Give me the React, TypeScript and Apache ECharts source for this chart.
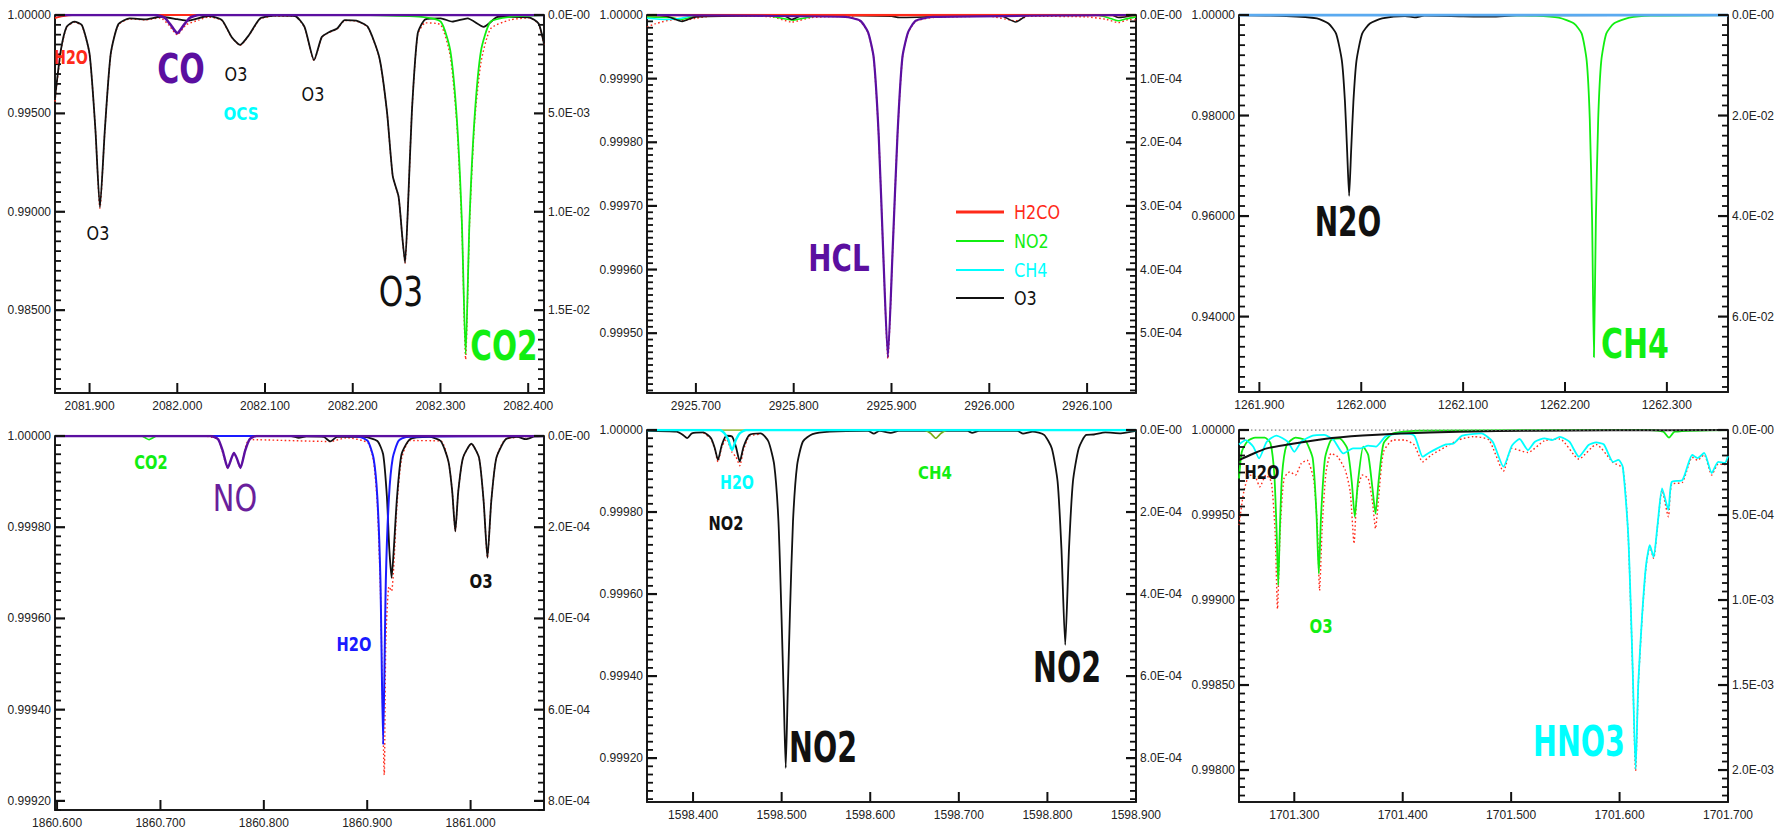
import React, { useEffect, useRef } from "react";
import * as echarts from "echarts";

// ---------------- axis ranges and tick labels ----------------
const P1_X = [2081.8606, 2082.418];
const P1_YMIN = 0.98079;
const P1_XTICKS = [2081.9, 2082.0, 2082.1, 2082.2, 2082.3, 2082.4];
const P1_YTICKS = [1.0, 0.995, 0.99, 0.985];
const P1_RTICKS = [0, 0.005, 0.01, 0.015];

const P2_X = [2925.65, 2926.15];
const P2_YMIN = 0.999406;
const P2_XTICKS = [2925.7, 2925.8, 2925.9, 2926.0, 2926.1];
const P2_YTICKS = [1.0, 0.9999, 0.9998, 0.9997, 0.9996, 0.9995];
const P2_RTICKS = [0, 0.0001, 0.0002, 0.0003, 0.0004, 0.0005];

const P3_X = [1261.88, 1262.36];
const P3_YMIN = 0.925;
const P3_XTICKS = [1261.9, 1262.0, 1262.1, 1262.2, 1262.3];
const P3_YTICKS = [1.0, 0.98, 0.96, 0.94];
const P3_RTICKS = [0, 0.02, 0.04, 0.06];

const P4_X = [1860.598, 1861.071];
const P4_YMIN = 0.99918;
const P4_XTICKS = [1860.6, 1860.7, 1860.8, 1860.9, 1861.0];
const P4_YTICKS = [1.0, 0.9998, 0.9996, 0.9994, 0.9992];
const P4_RTICKS = [0, 0.0002, 0.0004, 0.0006, 0.0008];

const P5_X = [1598.348, 1598.9];
const P5_YMIN = 0.999093;
const P5_XTICKS = [1598.4, 1598.5, 1598.6, 1598.7, 1598.8, 1598.9];
const P5_YTICKS = [1.0, 0.9998, 0.9996, 0.9994, 0.9992];
const P5_RTICKS = [0, 0.0002, 0.0004, 0.0006, 0.0008];

const P6_X = [1701.249, 1701.7];
const P6_YMIN = 0.997812;
const P6_XTICKS = [1701.3, 1701.4, 1701.5, 1701.6, 1701.7];
const P6_YTICKS = [1.0, 0.9995, 0.999, 0.9985, 0.998];
const P6_RTICKS = [0, 0.0005, 0.001, 0.0015, 0.002];

// ---------------- series values ----------------
// Panel 1 (2082 cm-1)
const p1_O3 = [
  [2081.8606, 0.99578], [2081.8672, 0.99819], [2081.8738, 0.9994], [2081.8825, 0.99966],
  [2081.8913, 0.99948], [2081.9, 0.99802], [2081.9066, 0.99422], [2081.9118, 0.99022],
  [2081.9175, 0.99422], [2081.9241, 0.99802], [2081.9328, 0.99953], [2081.9459, 0.99983],
  [2081.9634, 0.99978], [2081.9809, 0.99991], [2082.0, 0.99979], [2082.0116, 0.99971],
  [2082.0356, 0.99995], [2082.0509, 0.99974], [2082.0619, 0.99888], [2082.0715, 0.99848],
  [2082.0815, 0.99897], [2082.0947, 0.99983], [2082.1122, 0.99997], [2082.134, 0.99995],
  [2082.145, 0.9994], [2082.1559, 0.99771], [2082.1647, 0.99888], [2082.1734, 0.99914],
  [2082.1822, 0.99931], [2082.1909, 0.99974], [2082.204, 0.99971], [2082.2171, 0.9994],
  [2082.2303, 0.99784], [2082.239, 0.99509], [2082.2456, 0.99181], [2082.2522, 0.99078],
  [2082.2565, 0.98871], [2082.2596, 0.98741], [2082.2631, 0.99043], [2082.2674, 0.99509],
  [2082.274, 0.99905], [2082.2828, 0.99978], [2082.3003, 0.99983], [2082.3134, 0.99966],
  [2082.3309, 0.99983], [2082.3493, 0.9994], [2082.3659, 0.99991], [2082.4009, 0.99988],
  [2082.4118, 0.99957], [2082.418, 0.99853],
];
const p1_CO2 = [
  [2082.22, 1.0], [2082.2784, 0.99991], [2082.3003, 0.99966], [2082.3112, 0.99819],
  [2082.3186, 0.99474], [2082.3243, 0.98957], [2082.3287, 0.98276], [2082.3331, 0.98957],
  [2082.3388, 0.99474], [2082.3462, 0.99819], [2082.3571, 0.99966], [2082.379, 0.99991],
  [2082.418, 1.0],
];
const p1_CO = [
  [2081.8606, 1.0], [2081.975, 1.0], [2081.986, 0.99985], [2081.994, 0.9994], [2082.0, 0.99908],
  [2082.006, 0.9994], [2082.014, 0.99985], [2082.025, 1.0], [2082.418, 1.0],
];
const p1_H2O = [[2081.8606, 0.99985], [2081.868, 0.99993], [2081.88, 1.0], [2082.418, 1.0]];
const p1_TOTAL = [
  [2081.8606, 0.9956], [2081.8672, 0.99815], [2081.8738, 0.99938], [2081.8825, 0.99963],
  [2081.8913, 0.99945], [2081.9, 0.998], [2081.9066, 0.9942], [2081.9118, 0.99018],
  [2081.9175, 0.9942], [2081.9241, 0.998], [2081.9328, 0.9995], [2081.9459, 0.9998],
  [2081.9634, 0.99975], [2081.9809, 0.99985], [2081.99, 0.9995], [2082.0, 0.999],
  [2082.01, 0.9995], [2082.025, 0.99975], [2082.0356, 0.9999], [2082.0509, 0.99972],
  [2082.0619, 0.99886], [2082.0715, 0.99846], [2082.0815, 0.99895], [2082.0947, 0.9998],
  [2082.1122, 0.99995], [2082.134, 0.99993], [2082.145, 0.99938], [2082.1559, 0.99769],
  [2082.1647, 0.99886], [2082.1734, 0.99912], [2082.1822, 0.99929], [2082.1909, 0.99972],
  [2082.204, 0.99969], [2082.2171, 0.99938], [2082.2303, 0.99782], [2082.239, 0.99507],
  [2082.2456, 0.99179], [2082.2522, 0.99076], [2082.2565, 0.98869], [2082.2596, 0.98739],
  [2082.2631, 0.99041], [2082.2674, 0.99507], [2082.274, 0.999], [2082.2828, 0.9996],
  [2082.3003, 0.9995], [2082.3112, 0.9979], [2082.3186, 0.9945], [2082.3243, 0.98935],
  [2082.3287, 0.9825], [2082.3331, 0.98935], [2082.3388, 0.9945], [2082.3462, 0.9976],
  [2082.3571, 0.9993], [2082.379, 0.99975], [2082.4009, 0.99985], [2082.4118, 0.99955],
  [2082.418, 0.9985],
];

// Panel 2 (2926 cm-1)
const p2_HCL = [
  [2925.65, 1.0], [2925.8525, 0.999997], [2925.8681, 0.999991], [2925.876, 0.999973],
  [2925.8818, 0.999933], [2925.8869, 0.999811], [2925.8916, 0.999624], [2925.8963, 0.999462],
  [2925.901, 0.999624], [2925.9061, 0.999811], [2925.9111, 0.999933], [2925.917, 0.999973],
  [2925.9248, 0.999991], [2925.9424, 0.999997], [2926.15, 1.0],
];
const p2_O3 = [
  [2925.65, 1.0], [2925.67, 0.999998], [2925.686, 0.99999], [2925.7, 0.999997], [2925.79, 0.999999],
  [2925.798, 0.999993], [2925.81, 1.0], [2925.9, 0.999998], [2925.908, 0.999996], [2926.01, 1.0],
  [2926.027, 0.999989], [2926.04, 1.0], [2926.125, 1.0], [2926.132, 0.999996], [2926.15, 1.0],
];
const p2_NO2 = [
  [2925.65, 0.999997], [2925.675, 0.999996], [2925.685, 0.999993], [2925.7, 0.999998],
  [2925.77, 1.0], [2925.79, 0.999994], [2925.8, 0.999992], [2925.81, 0.999995], [2925.83, 1.0],
  [2926.11, 1.0], [2926.125, 0.999994], [2926.132, 0.999991], [2926.14, 0.999994], [2926.15, 0.999997],
];
const p2_CH4 = [[2925.65, 0.999995], [2925.67, 0.999993], [2925.685, 0.999995], [2925.7, 1.0], [2926.15, 1.0]];
const p2_H2CO = [[2925.65, 1.0], [2926.15, 1.0]];
const p2_TOTAL = [
  [2925.65, 0.999981], [2925.658, 0.999986], [2925.678, 0.999993], [2925.686, 0.999991],
  [2925.7, 0.999995], [2925.72, 0.999999], [2925.778, 0.999997], [2925.798, 0.999989],
  [2925.818, 0.999996], [2925.857, 0.999998], [2925.8681, 0.99999], [2925.876, 0.999972],
  [2925.8818, 0.999932], [2925.8869, 0.99981], [2925.8916, 0.999623], [2925.8963, 0.99946],
  [2925.901, 0.999623], [2925.9061, 0.99981], [2925.9111, 0.999932], [2925.917, 0.999972],
  [2925.9248, 0.99999], [2925.9424, 0.999996], [2926.0, 0.999998], [2926.027, 0.999991],
  [2926.04, 0.999998], [2926.1, 0.999997], [2926.12, 0.999993], [2926.132, 0.999988],
  [2926.143, 0.999993], [2926.15, 0.999992],
];

// Panel 3 (1262 cm-1)
const p3_N2O = [
  [1261.88, 1.0], [1261.9264, 0.9998], [1261.9565, 0.99932], [1261.9678, 0.99831],
  [1261.9753, 0.99629], [1261.981, 0.99089], [1261.984, 0.98279], [1261.9862, 0.97266],
  [1261.9881, 0.96402], [1261.99, 0.97266], [1261.9923, 0.98279], [1261.9953, 0.99089],
  [1262.0009, 0.99629], [1262.0085, 0.99831], [1262.0205, 0.99932], [1262.0431, 0.9998],
  [1262.0525, 0.99953], [1262.062, 0.99987], [1262.0883, 0.9998], [1262.1279, 0.99966],
  [1262.1524, 0.99993], [1262.36, 1.0],
];
const p3_CH4 = [
  [1262.14, 1.0], [1262.1712, 0.99987], [1262.1938, 0.99946], [1262.2088, 0.99831],
  [1262.2164, 0.99629], [1262.2213, 0.99089], [1262.2243, 0.97941], [1262.2266, 0.95916],
  [1262.2284, 0.93196], [1262.2303, 0.95916], [1262.2326, 0.97941], [1262.2356, 0.99089],
  [1262.2405, 0.99629], [1262.248, 0.99831], [1262.2631, 0.99946], [1262.2842, 0.99987],
  [1262.36, 1.0],
];
const p3_TOP = [[1261.88, 1.0], [1262.36, 1.0]];

// Panel 4 (1861 cm-1)
const p4_H2O = [
  [1860.598, 1.0], [1860.8783, 1.0], [1860.8931, 0.999998], [1860.9006, 0.999989],
  [1860.9061, 0.999952], [1860.9098, 0.999865], [1860.9128, 0.999682], [1860.9154, 0.999323],
  [1860.918, 0.999682], [1860.921, 0.999865], [1860.9247, 0.999952], [1860.9302, 0.999989],
  [1860.9377, 0.999998], [1861.071, 1.0],
];
const p4_O3 = [
  [1860.598, 1.0], [1860.8263, 1.0], [1860.8338, 0.999996], [1860.8412, 0.999999],
  [1860.8579, 0.999998], [1860.8642, 0.999988], [1860.8709, 0.999998], [1860.8968, 0.999998],
  [1860.9098, 0.999989], [1860.9154, 0.99996], [1860.9191, 0.999865], [1860.9213, 0.999755],
  [1860.9236, 0.999689], [1860.9258, 0.999755], [1860.9288, 0.999865], [1860.9332, 0.99996],
  [1860.9414, 0.999993], [1860.9599, 0.999998], [1860.9711, 0.999989], [1860.9785, 0.999945],
  [1860.9822, 0.999879], [1860.9852, 0.999791], [1860.9881, 0.999879], [1860.9926, 0.999952],
  [1861.0007, 0.999983], [1861.0082, 0.999952], [1861.0126, 0.999857], [1861.0163, 0.999733],
  [1861.02, 0.999857], [1861.0249, 0.999952], [1861.0341, 0.999993], [1861.0453, 0.999998],
  [1861.0534, 0.999993], [1861.062, 0.999999], [1861.071, 1.0],
];
const p4_NO = [
  [1860.598, 1.0], [1860.7484, 1.0], [1860.7558, 0.999993], [1860.7603, 0.999967],
  [1860.7651, 0.99993], [1860.7688, 0.999952], [1860.7711, 0.999963], [1860.7737, 0.999952],
  [1860.7774, 0.99993], [1860.7818, 0.999967], [1860.7863, 0.999993], [1860.7929, 1.0],
  [1861.071, 1.0],
];
const p4_CO2 = [
  [1860.598, 1.0], [1860.6816, 1.0], [1860.6853, 0.999996], [1860.689, 0.999992],
  [1860.6928, 0.999996], [1860.6965, 1.0], [1861.071, 1.0],
];
const p4_TOTAL = [
  [1860.598, 1.0], [1860.74, 1.0], [1860.7558, 0.999992], [1860.7651, 0.99993],
  [1860.7711, 0.999963], [1860.7774, 0.99993], [1860.7863, 0.999992], [1860.8642, 0.999988],
  [1860.88, 0.999996], [1860.9006, 0.999985], [1860.9061, 0.999945], [1860.9098, 0.99985],
  [1860.9128, 0.99966], [1860.9165, 0.999257], [1860.918, 0.99955], [1860.921, 0.99967],
  [1860.9236, 0.99966], [1860.9258, 0.99972], [1860.9288, 0.99985], [1860.9332, 0.99995],
  [1860.9414, 0.99999], [1860.9711, 0.999989], [1860.9785, 0.999945], [1860.9822, 0.999879],
  [1860.9852, 0.999791], [1860.9881, 0.999879], [1860.9926, 0.999952], [1861.0007, 0.999983],
  [1861.0082, 0.999952], [1861.0126, 0.999857], [1861.0163, 0.999733], [1861.02, 0.999857],
  [1861.0249, 0.999952], [1861.0341, 0.999993], [1861.071, 1.0],
];

// Panel 5 (1598 cm-1)
const p5_NO2 = [
  [1598.348, 0.999998], [1598.3814, 0.999996], [1598.3879, 0.999989], [1598.3935, 0.99998],
  [1598.3987, 0.999992], [1598.4117, 0.999994], [1598.4203, 0.99998], [1598.4246, 0.999955],
  [1598.4281, 0.999927], [1598.4324, 0.999963], [1598.4376, 0.999986], [1598.4441, 0.999984],
  [1598.4484, 0.999959], [1598.4527, 0.999923], [1598.457, 0.999959], [1598.4635, 0.999988],
  [1598.4765, 0.999992], [1598.4851, 0.999972], [1598.4916, 0.999915], [1598.4964, 0.999777],
  [1598.4998, 0.999549], [1598.5024, 0.999346], [1598.5046, 0.999176], [1598.5067, 0.999346],
  [1598.5093, 0.999549], [1598.5128, 0.999777], [1598.5175, 0.999915], [1598.524, 0.999972],
  [1598.5348, 0.99999], [1598.5543, 0.999996], [1598.5975, 0.999998], [1598.604, 0.999991],
  [1598.6105, 0.999998], [1598.6234, 0.999993], [1598.6321, 0.999998], [1598.7098, 0.999998],
  [1598.715, 0.999993], [1598.7228, 0.999998], [1598.766, 0.999998], [1598.7725, 0.999991],
  [1598.7834, 0.999996], [1598.7963, 0.999988], [1598.805, 0.999955], [1598.8115, 0.999874],
  [1598.8158, 0.999712], [1598.8201, 0.999476], [1598.8244, 0.999712], [1598.8288, 0.999874],
  [1598.8353, 0.999955], [1598.8438, 0.999988], [1598.8525, 0.999989], [1598.8654, 0.999994],
  [1598.8827, 0.999992], [1598.9, 0.999998],
];
const p5_H2O = [
  [1598.348, 1.0], [1598.43, 1.0], [1598.4354, 0.999992], [1598.4398, 0.999976],
  [1598.4441, 0.999951], [1598.4484, 0.999976], [1598.4527, 0.999992], [1598.46, 1.0],
  [1598.9, 1.0],
];
const p5_CH4 = [
  [1598.348, 1.0], [1598.66, 1.0], [1598.668, 0.999992], [1598.674, 0.99998],
  [1598.68, 0.999992], [1598.688, 1.0], [1598.9, 1.0],
];
const p5_TOTAL = [
  [1598.4117, 0.999993], [1598.4203, 0.999978], [1598.4246, 0.999952], [1598.4281, 0.999922],
  [1598.4324, 0.999958], [1598.4376, 0.999978], [1598.4441, 0.999945], [1598.4484, 0.999935],
  [1598.4527, 0.999913], [1598.457, 0.999952], [1598.4635, 0.999985], [1598.4765, 0.99999],
];

// Panel 6 (1701 cm-1)
const p6_H2O = [
  [1701.249, 0.999823], [1701.2604, 0.999856], [1701.2746, 0.999892], [1701.3, 0.999921],
  [1701.3276, 0.999947], [1701.3629, 0.999967], [1701.3982, 0.99998], [1701.4512, 0.99999],
  [1701.5219, 0.999996], [1701.5926, 0.999998], [1701.7, 1.0],
];
const p6_O3 = [
  [1701.249, 0.999715], [1701.2516, 0.999872], [1701.2569, 0.999935], [1701.264, 0.999955],
  [1701.2728, 0.999955], [1701.2781, 0.999921], [1701.2816, 0.999735], [1701.2837, 0.9994],
  [1701.2852, 0.999086], [1701.2866, 0.9994], [1701.2887, 0.999735], [1701.2929, 0.999912],
  [1701.3011, 0.999955], [1701.3099, 0.999941], [1701.317, 0.999833], [1701.3205, 0.999499],
  [1701.3226, 0.999155], [1701.3247, 0.999499], [1701.3283, 0.999833], [1701.3339, 0.999941],
  [1701.3417, 0.999951], [1701.3488, 0.999892], [1701.353, 0.999695], [1701.3558, 0.999489],
  [1701.3587, 0.999695], [1701.3636, 0.999902], [1701.3682, 0.999853], [1701.3721, 0.999656],
  [1701.3749, 0.999508], [1701.3777, 0.999695], [1701.3823, 0.999921], [1701.3912, 0.99998],
  [1701.4159, 0.999996], [1701.6279, 1.0], [1701.6403, 0.99999], [1701.6456, 0.999955],
  [1701.6509, 0.99999], [1701.7, 1.0],
];
const p6_HNO3 = [
  [1701.249, 0.999915], [1701.2551, 0.999941], [1701.2622, 0.999902], [1701.2675, 0.999833],
  [1701.2746, 0.999931], [1701.2834, 0.999967], [1701.294, 0.999931], [1701.3, 0.999872],
  [1701.3064, 0.999931], [1701.317, 0.999967], [1701.3276, 0.999971], [1701.3364, 0.999941],
  [1701.3452, 0.999862], [1701.3541, 0.999892], [1701.3611, 0.999892], [1701.3682, 0.999908],
  [1701.3753, 0.999902], [1701.3841, 0.999961], [1701.3982, 0.99998], [1701.4106, 0.999967],
  [1701.4184, 0.999843], [1701.4247, 0.999868], [1701.4318, 0.999892], [1701.4399, 0.999915],
  [1701.447, 0.999921], [1701.4548, 0.999967], [1701.4724, 0.99998], [1701.483, 0.999931],
  [1701.4929, 0.999784], [1701.5007, 0.999908], [1701.5078, 0.999947], [1701.5155, 0.999882],
  [1701.5219, 0.999931], [1701.5307, 0.999951], [1701.5378, 0.999941], [1701.5449, 0.999959],
  [1701.5537, 0.999931], [1701.5625, 0.999843], [1701.5714, 0.999912], [1701.5784, 0.999927],
  [1701.5855, 0.999915], [1701.594, 0.999812], [1701.599, 0.999824], [1701.603, 0.999782],
  [1701.608, 0.99938], [1701.612, 0.998614], [1701.6148, 0.998005], [1701.6173, 0.998516],
  [1701.6208, 0.998909], [1701.6244, 0.999204], [1701.6279, 0.999322], [1701.6314, 0.999253],
  [1701.635, 0.99944], [1701.6392, 0.999656], [1701.645, 0.99953], [1701.648, 0.999694],
  [1701.658, 0.999706], [1701.667, 0.999853], [1701.672, 0.999835], [1701.678, 0.999865],
  [1701.685, 0.999747], [1701.691, 0.999812], [1701.697, 0.999806], [1701.7, 0.999847],
];
const p6_TOTAL = [
  [1701.249, 0.99944], [1701.2534, 0.999636], [1701.2587, 0.999735], [1701.264, 0.999725],
  [1701.2682, 0.999666], [1701.2739, 0.999735], [1701.2788, 0.999695], [1701.2823, 0.9994],
  [1701.2845, 0.998948], [1701.2869, 0.9994], [1701.2905, 0.999715], [1701.2958, 0.999754],
  [1701.3011, 0.999735], [1701.3064, 0.999803], [1701.3117, 0.999823], [1701.3177, 0.999715],
  [1701.3212, 0.99944], [1701.3233, 0.999056], [1701.3258, 0.99944], [1701.3293, 0.999754],
  [1701.3339, 0.999862], [1701.3399, 0.999843], [1701.347, 0.999764], [1701.3516, 0.999636],
  [1701.3551, 0.999332], [1701.358, 0.999636], [1701.3629, 0.999735], [1701.3682, 0.999715],
  [1701.3721, 0.999577], [1701.3749, 0.99942], [1701.3777, 0.999597], [1701.3823, 0.999872],
  [1701.3912, 0.999941], [1701.4018, 0.999941], [1701.4106, 0.999912], [1701.4184, 0.999813],
  [1701.4265, 0.999853], [1701.4399, 0.999902], [1701.4512, 0.999941], [1701.4653, 0.999961],
  [1701.4795, 0.999941], [1701.4929, 0.999758], [1701.5007, 0.999892], [1701.5155, 0.999868],
  [1701.5307, 0.999937], [1701.5449, 0.999947], [1701.5625, 0.999829], [1701.5784, 0.999915],
  [1701.594, 0.999809], [1701.603, 0.999775], [1701.608, 0.99937], [1701.612, 0.9986],
  [1701.6148, 0.997995], [1701.6173, 0.9985], [1701.6208, 0.9989], [1701.6244, 0.999195],
  [1701.6279, 0.999315], [1701.6314, 0.999245], [1701.635, 0.999432], [1701.6392, 0.999645],
  [1701.645, 0.99949], [1701.648, 0.99968], [1701.658, 0.999692], [1701.667, 0.99984],
  [1701.672, 0.999822], [1701.678, 0.999855], [1701.685, 0.999735], [1701.691, 0.9998],
  [1701.697, 0.999795], [1701.7, 0.999835],
];
const p6_TOP = [[1701.249, 1.0], [1701.7, 1.0]];

// ---------------- layout & style ----------------
const GRIDS = [
  { left: 55, top: 15, width: 489, height: 378 },
  { left: 647, top: 15, width: 489, height: 378 },
  { left: 1239, top: 15, width: 489, height: 377 },
  { left: 55, top: 436, width: 489, height: 374 },
  { left: 647, top: 430, width: 489, height: 372 },
  { left: 1239, top: 430, width: 489, height: 372 },
];

const RED = "#ff2a1a";
const GREEN = "#11ee11";
const CYAN = "#00ffff";
const BLUE = "#1a1aff";
const PURPLE = "#5b0fa0";
const BLACK = "#111111";
const LIGHTBLUE = "#5aaaf0";
const AXIS = "#1a1a1a";
const TICK_COLOR = "#111111";
const TICK_FONT = "Liberation Sans";
const LABEL_FONT = "DejaVu Sans";
const DOTS = [1.6, 2.4];

// annotation texts: [text, x, y, color, size, bold, scaleX]
const ANNOTATIONS: [string, number, number, string, number, boolean, number][] = [
  ["H2O", 71, 57, RED, 19, true, 0.75],
  ["CO", 181, 69, PURPLE, 40, true, 0.75],
  ["O3", 236, 74, BLACK, 20, false, 0.8],
  ["OCS", 241, 114, CYAN, 18, true, 0.84],
  ["O3", 313, 94, BLACK, 20, false, 0.8],
  ["O3", 98, 233, BLACK, 20, false, 0.8],
  ["O3", 401, 292, BLACK, 40, false, 0.78],
  ["CO2", 504, 346, GREEN, 41, true, 0.72],
  ["HCL", 839, 259, PURPLE, 37, true, 0.75],
  ["N2O", 1348, 222, BLACK, 40, true, 0.7],
  ["CH4", 1635, 344, GREEN, 40, true, 0.75],
  ["CO2", 151, 462, GREEN, 19, true, 0.77],
  ["NO", 235, 498, "#6a1f9c", 38, false, 0.76],
  ["H2O", 354, 644, BLUE, 19, true, 0.77],
  ["O3", 481, 581, BLACK, 20, true, 0.75],
  ["H2O", 737, 482, CYAN, 19, true, 0.75],
  ["NO2", 726, 523, BLACK, 19, true, 0.77],
  ["CH4", 935, 473, GREEN, 18, true, 0.83],
  ["NO2", 823, 747, BLACK, 42, true, 0.68],
  ["NO2", 1067, 667, BLACK, 42, true, 0.68],
  ["H2O", 1262, 472, BLACK, 19, true, 0.77],
  ["O3", 1321, 626, GREEN, 20, true, 0.75],
  ["HNO3", 1579, 741, CYAN, 42, true, 0.68],
];

// legend in panel 2: [name, color, lineWidth, y]
const LEGEND: [string, string, number, number][] = [
  ["H2CO", RED, 3, 212],
  ["NO2", GREEN, 2, 241],
  ["CH4", CYAN, 2, 270],
  ["O3", BLACK, 2, 298],
];

function stepValues(lo: number, hi: number, step: number): number[] {
  const out: number[] = [];
  const k0 = Math.ceil(lo / step - 1e-6);
  const k1 = Math.floor(hi / step + 1e-6);
  for (let k = k0; k <= k1; k++) out.push(parseFloat((k * step).toPrecision(12)));
  return out;
}

function sci(v: number): string {
  if (Math.abs(v) < 1e-15) return "0.0E-00";
  const e = Math.floor(Math.log10(v) + 1e-9);
  const m = v / Math.pow(10, e);
  return m.toFixed(1) + "E" + (e < 0 ? "-" : "+") + String(Math.abs(e)).padStart(2, "0");
}

export default function App() {
  const ref = useRef<HTMLDivElement>(null);

  useEffect(() => {
    if (!ref.current) return;
    const chart = echarts.init(ref.current, undefined, { renderer: "svg" });

    const panels = [
      { x: P1_X, ymin: P1_YMIN, xt: P1_XTICKS, yt: P1_YTICKS, rt: P1_RTICKS },
      { x: P2_X, ymin: P2_YMIN, xt: P2_XTICKS, yt: P2_YTICKS, rt: P2_RTICKS },
      { x: P3_X, ymin: P3_YMIN, xt: P3_XTICKS, yt: P3_YTICKS, rt: P3_RTICKS },
      { x: P4_X, ymin: P4_YMIN, xt: P4_XTICKS, yt: P4_YTICKS, rt: P4_RTICKS },
      { x: P5_X, ymin: P5_YMIN, xt: P5_XTICKS, yt: P5_YTICKS, rt: P5_RTICKS },
      { x: P6_X, ymin: P6_YMIN, xt: P6_XTICKS, yt: P6_YTICKS, rt: P6_RTICKS },
    ];

    const labelStyle = { fontFamily: TICK_FONT, fontSize: 12, color: "#222222" };
    const axisLine = { show: true, onZero: false, lineStyle: { color: AXIS, width: 2 } };
    const xAxes: any[] = [];
    const yAxes: any[] = [];
    panels.forEach((p, i) => {
      const rmax = parseFloat((1 - p.ymin).toPrecision(10));
      xAxes.push({
        gridIndex: i, type: "value", min: p.x[0], max: p.x[1], position: "bottom",
        axisLine, axisTick: { show: false },
        axisLabel: { show: true, customValues: p.xt, formatter: (v: number) => v.toFixed(3), margin: 7, ...labelStyle },
        splitLine: { show: false },
      });
      yAxes.push({
        gridIndex: i, type: "value", min: p.ymin, max: 1, position: "left",
        axisLine, axisTick: { show: false },
        axisLabel: { show: true, customValues: p.yt, formatter: (v: number) => v.toFixed(5), margin: 4, ...labelStyle },
        splitLine: { show: false },
      });
      yAxes.push({
        gridIndex: i, type: "value", min: 0, max: rmax, inverse: true, position: "right",
        axisLine, axisTick: { show: false },
        axisLabel: { show: true, customValues: p.rt, formatter: (v: number) => sci(v), margin: 4, ...labelStyle },
        splitLine: { show: false },
      });
    });

    const S = (i: number, name: string, data: number[][], color: string, width: number, dotted = false) => ({
      type: "line", name, xAxisIndex: i, yAxisIndex: i * 2, data,
      showSymbol: false, symbol: "none", smooth: 0.2, silent: true,
      lineStyle: dotted
        ? { color, width, type: DOTS, cap: "butt" }
        : { color, width, type: "solid", join: "round" },
      emphasis: { disabled: true },
    });

    const series = [
      // panel 1
      S(0, "total", p1_TOTAL, RED, 1.4, true),
      S(0, "H2O", p1_H2O, RED, 2),
      S(0, "O3", p1_O3, BLACK, 1.8),
      S(0, "CO2", p1_CO2, GREEN, 1.8),
      S(0, "CO", p1_CO, PURPLE, 2.6),
      // panel 2
      S(1, "total", p2_TOTAL, RED, 1.4, true),
      S(1, "NO2", p2_NO2, GREEN, 1.6),
      S(1, "CH4", p2_CH4, CYAN, 1.6),
      S(1, "O3", p2_O3, BLACK, 1.6),
      S(1, "H2CO", p2_H2CO, RED, 2.6),
      S(1, "HCL", p2_HCL, PURPLE, 2.2),
      // panel 3
      S(2, "N2O", p3_N2O, BLACK, 1.8),
      S(2, "CH4", p3_CH4, GREEN, 1.8),
      S(2, "top", p3_TOP, LIGHTBLUE, 3),
      // panel 4
      S(3, "total", p4_TOTAL, RED, 1.4, true),
      S(3, "O3", p4_O3, BLACK, 1.8),
      S(3, "CO2", p4_CO2, GREEN, 1.6),
      S(3, "H2O", p4_H2O, BLUE, 2),
      S(3, "NO", p4_NO, PURPLE, 2.4),
      // panel 5
      S(4, "total", p5_TOTAL, RED, 1.4, true),
      S(4, "NO2", p5_NO2, BLACK, 1.8),
      S(4, "CH4", p5_CH4, "#77aa11", 1.6),
      S(4, "H2O", p5_H2O, CYAN, 2.4),
      // panel 6
      S(5, "total", p6_TOTAL, RED, 1.4, true),
      S(5, "O3", p6_O3, GREEN, 1.8),
      S(5, "HNO3", p6_HNO3, CYAN, 1.8),
      S(5, "H2O", p6_H2O, BLACK, 2),
      S(5, "top", p6_TOP, "#888888", 1.3, true),
    ];

    const graphics: any[] = [];

    // axis tick marks (inward, IDL style): placed on the same linear axis mapping as the grid axes
    const rect = (x: number, y: number, w: number, h: number) => ({
      type: "rect", z: 60, silent: true,
      shape: { x, y, width: w, height: h },
      style: { fill: TICK_COLOR },
    });
    panels.forEach((p, i) => {
      const g = GRIDS[i];
      const L = g.left, R = g.left + g.width, T = g.top, B = g.top + g.height;
      const xToPx = (v: number) => L + ((v - p.x[0]) / (p.x[1] - p.x[0])) * g.width;
      const yToPx = (v: number) => B - ((v - p.ymin) / (1 - p.ymin)) * g.height;
      p.xt.forEach((v) => {
        const px = xToPx(v);
        graphics.push(rect(px - 1, B - 10, 2, 10));
      });
      const majorStep = Math.abs(p.yt[0] - p.yt[1]);
      const minorStep = majorStep / 10;
      stepValues(p.ymin, 1, minorStep).forEach((v) => {
        const py = yToPx(v);
        if (py < T - 0.5 || py > B + 0.5) return;
        const major = p.yt.some((t) => Math.abs(t - v) < minorStep / 100);
        const len = major ? 10 : 6;
        const h = major ? 2.2 : 1.8;
        graphics.push(rect(L, py - h / 2, len, h));
        graphics.push(rect(R - len, py - h / 2, len, h));
      });
    });

    ANNOTATIONS.forEach(([text, x, y, color, size, bold, sx]) => {
      graphics.push({
        type: "text", x, y, scaleX: sx, z: 100, silent: true,
        style: {
          text, fill: color, font: `${bold ? "bold " : ""}${size}px "${LABEL_FONT}"`,
          textAlign: "center", textVerticalAlign: "middle", align: "center", verticalAlign: "middle",
        },
      });
    });
    LEGEND.forEach(([name, color, lw, y]) => {
      graphics.push({
        type: "line", z: 100, silent: true,
        shape: { x1: 956, y1: y, x2: 1004, y2: y },
        style: { stroke: color, lineWidth: lw },
      });
      graphics.push({
        type: "text", x: 1014, y, scaleX: 0.8, z: 100, silent: true,
        style: {
          text: name, fill: color, font: `20px "${LABEL_FONT}"`,
          textAlign: "left", textVerticalAlign: "middle", align: "left", verticalAlign: "middle",
        },
      });
    });

    chart.setOption({
      animation: false,
      backgroundColor: "#ffffff",
      grid: GRIDS.map((g) => ({ ...g, containLabel: false })),
      xAxis: xAxes,
      yAxis: yAxes,
      series,
      graphic: { elements: graphics },
    });

    return () => chart.dispose();
  }, []);

  return (
    <div
      ref={ref}
      style={{ position: "absolute", left: 0, top: 0, width: 1791, height: 830, background: "#fff" }}
    />
  );
}
